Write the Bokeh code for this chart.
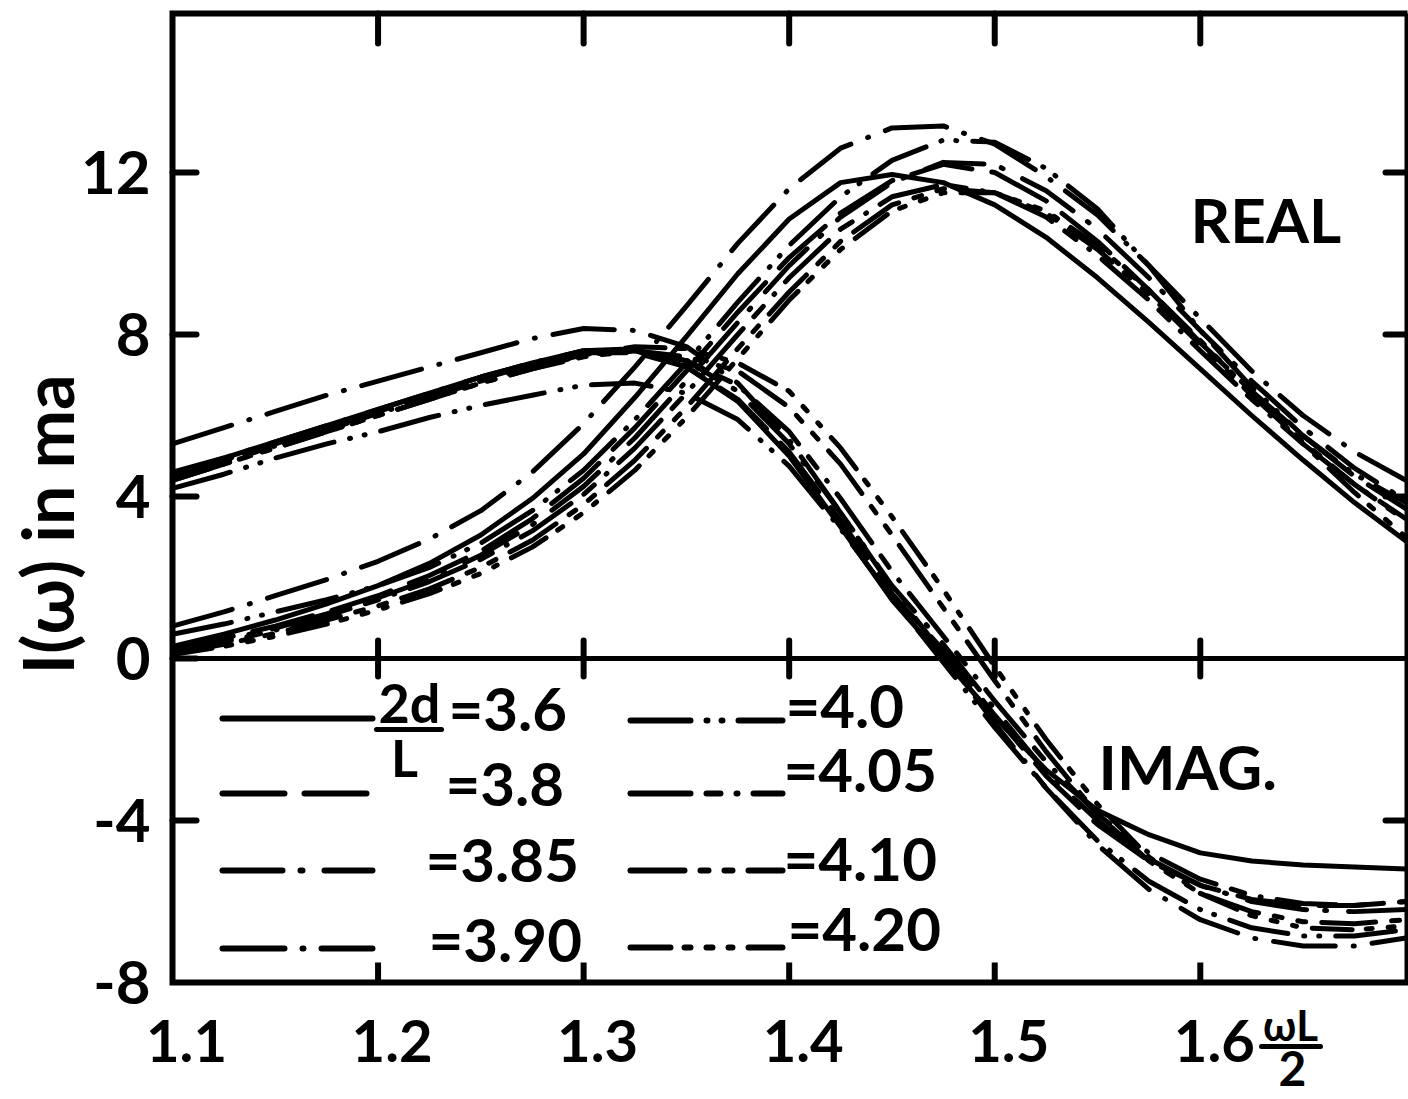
from bokeh.plotting import figure
from bokeh.models import Range1d, Label
from bokeh.embed import file_html
from bokeh.resources import INLINE

# ---- data: I(omega) in mA against omega*L/2, one curve per 2d/L ----
omega = [1.100, 1.125, 1.150, 1.175, 1.200, 1.225, 1.250, 1.275, 1.300, 1.325,
         1.350, 1.375, 1.400, 1.425, 1.450, 1.475, 1.500, 1.525, 1.550, 1.575,
         1.600, 1.625, 1.650, 1.675, 1.700]

params = ["3.6", "3.8", "3.85", "3.90", "4.0", "4.05", "4.10", "4.20"]

real_36 = [0.30, 0.60, 0.95, 1.35, 1.80, 2.35, 3.05, 3.95, 5.05, 6.45, 7.95, 9.50, 10.85,
           11.75, 11.95, 11.75, 11.20, 10.40, 9.40, 8.30, 7.15, 6.00, 4.90, 3.85, 2.90]
real_38 = [0.25, 0.50, 0.80, 1.15, 1.55, 2.05, 2.65, 3.45, 4.45, 5.70, 7.10, 8.55, 9.90,
           11.00, 11.80, 12.20, 12.00, 11.30, 10.30, 9.10, 7.80, 6.60, 5.50, 4.50, 3.70]
real_385 = [0.20, 0.45, 0.75, 1.10, 1.50, 1.95, 2.55, 3.30, 4.25, 5.45, 6.85, 8.30, 9.70,
            10.90, 11.75, 12.25, 12.20, 11.55, 10.60, 9.40, 8.10, 6.85, 5.70, 4.70, 3.90]
real_390 = [0.80, 1.15, 1.55, 1.95, 2.40, 2.95, 3.65, 4.60, 5.80, 7.20, 8.70, 10.25, 11.60,
            12.60, 13.10, 13.15, 12.70, 11.90, 10.95, 9.70, 8.40, 7.10, 6.00, 5.10, 4.40]
real_40 = [0.60, 0.85, 1.15, 1.45, 1.80, 2.25, 2.85, 3.65, 4.65, 5.90, 7.30, 8.80, 10.20,
           11.40, 12.30, 12.80, 12.75, 12.10, 11.10, 9.70, 8.10, 6.70, 5.50, 4.55, 3.85]
real_405 = [0.15, 0.40, 0.70, 1.05, 1.45, 1.90, 2.45, 3.15, 4.05, 5.20, 6.55, 8.00, 9.40,
            10.60, 11.40, 11.70, 11.50, 10.90, 9.95, 8.85, 7.60, 6.40, 5.30, 4.30, 3.45]
real_410 = [0.12, 0.35, 0.62, 0.95, 1.30, 1.72, 2.25, 2.92, 3.80, 4.90, 6.20, 7.65, 9.05,
            10.30, 11.20, 11.60, 11.50, 11.00, 10.10, 9.00, 7.75, 6.50, 5.35, 4.30, 3.40]
real_420 = [0.10, 0.30, 0.55, 0.85, 1.20, 1.60, 2.10, 2.75, 3.60, 4.65, 5.95, 7.40, 8.85,
            10.10, 11.05, 11.50, 11.50, 11.05, 10.20, 9.10, 7.85, 6.55, 5.30, 4.10, 3.00]

imag_36 = [4.60, 4.95, 5.35, 5.75, 6.15, 6.55, 6.95, 7.30, 7.60, 7.60, 7.20, 6.35, 5.00,
           3.25, 1.45, 0.00, -1.45, -2.75, -3.75, -4.35, -4.80, -5.00, -5.10, -5.15, -5.20]
imag_38 = [4.50, 4.90, 5.30, 5.70, 6.10, 6.50, 6.90, 7.25, 7.55, 7.55, 7.20, 6.40, 5.10,
           3.40, 1.60, 0.20, -1.40, -2.90, -4.10, -5.00, -5.60, -5.95, -6.10, -6.10, -6.00]
imag_385 = [4.55, 4.95, 5.35, 5.75, 6.15, 6.55, 6.95, 7.30, 7.60, 7.65, 7.35, 6.60, 5.30,
            3.60, 1.80, 0.35, -1.25, -2.80, -4.00, -4.95, -5.60, -6.00, -6.20, -6.25, -6.20]
imag_390 = [5.30, 5.70, 6.10, 6.50, 6.85, 7.20, 7.55, 7.90, 8.15, 8.10, 7.70, 6.80, 5.40,
            3.60, 1.75, 0.10, -1.60, -3.20, -4.60, -5.70, -6.45, -6.90, -7.10, -7.10, -6.90]
imag_40 = [4.20, 4.55, 4.95, 5.30, 5.60, 5.95, 6.25, 6.50, 6.75, 6.80, 6.55, 5.90, 4.75,
           3.20, 1.50, -0.10, -1.70, -3.20, -4.50, -5.50, -6.20, -6.65, -6.85, -6.85, -6.70]
imag_405 = [4.45, 4.85, 5.25, 5.65, 6.05, 6.45, 6.85, 7.20, 7.50, 7.60, 7.35, 6.75, 5.60,
            3.95, 2.15, 0.55, -1.05, -2.55, -3.85, -4.80, -5.45, -5.85, -6.05, -6.10, -6.00]
imag_410 = [4.40, 4.80, 5.20, 5.60, 6.00, 6.40, 6.80, 7.15, 7.45, 7.60, 7.45, 7.10, 6.20,
            4.80, 3.05, 1.25, -0.55, -2.30, -3.85, -5.00, -5.80, -6.25, -6.50, -6.55, -6.45]
imag_420 = [4.40, 4.80, 5.20, 5.60, 6.00, 6.40, 6.80, 7.15, 7.50, 7.70, 7.65, 7.30, 6.60,
            5.20, 3.50, 1.70, -0.20, -2.00, -3.60, -4.90, -5.80, -6.35, -6.65, -6.70, -6.60]

real_parts = [real_36, real_38, real_385, real_390, real_40, real_405, real_410, real_420]
imag_parts = [imag_36, imag_38, imag_385, imag_390, imag_40, imag_405, imag_410, imag_420]

x_ticks = [1.1, 1.2, 1.3, 1.4, 1.5, 1.6]
x_tick_labels = ["1.1", "1.2", "1.3", "1.4", "1.5", "1.6"]
y_ticks = [-8, -4, 0, 4, 8, 12]
y_tick_labels = ["-8", "-4", "0", "4", "8", "12"]

# ---- line styles, one per 2d/L (round caps turn 1-px dashes into dots) ----
dashes = ["solid", "62 20", "60 18 2 22", "62 18 1 18", "60 16 1 14 1 16",
          "60 16 14 16 1 16", "54 16 8 16 8 16", "40 14 6 16 6 16 4 16"]

# ---- page geometry: the canvas is one frame, the boxed chart sits inside it ----
W, H = 1408, 1099
BOX_L, BOX_R, BOX_T, BOX_B = 172, 1407, 13, 982   # pixel edges of the boxed chart
X0, Y0 = 1.1, -8.0                                 # data values at the lower-left corner
SX = 2055.6                                        # pixels per unit of omega*L/2
SY = 40.5                                          # pixels per mA


def dx(px):
    return X0 + (px - BOX_L) / SX


def dy(py):
    return Y0 + (BOX_B - py) / SY


X1, Y1 = dx(BOX_R), dy(BOX_T)
INK = "#000000"
FONT = "Lato"

p = figure(width=W, height=H, x_range=Range1d(dx(0), dx(W)), y_range=Range1d(dy(H), dy(0)),
           output_backend="svg", toolbar_location=None,
           x_axis_location=None, y_axis_location=None, min_border=0)
p.grid.visible = False
p.outline_line_color = None
p.background_fill_color = "white"
p.border_fill_color = "white"


def label(x, y, text, size, align="left", angle=0, x_offset=0):
    p.add_layout(Label(x=x, y=y, x_offset=x_offset, text=text, text_align=align,
                       text_baseline="middle", text_font=FONT, text_font_style="bold",
                       text_font_size=size, text_color=INK, angle=angle,
                       angle_units="deg"))


# box around the chart
p.line([X1, X0, X0, X1, X1], [Y1, Y1, Y0, Y0, Y1], line_color=INK, line_width=6,
       line_join="miter")

# inward ticks on all four sides
inner_x = x_ticks[1:]
p.segment(x0=inner_x, y0=[Y0] * len(inner_x), x1=inner_x, y1=[Y0 + 20 / SY] * len(inner_x),
          line_width=6, line_color=INK)
p.segment(x0=inner_x, y0=[Y1] * len(inner_x), x1=inner_x, y1=[Y1 - 30 / SY] * len(inner_x),
          line_width=6, line_color=INK, line_cap="round")
left_y = [t for t in y_ticks if t != -8]
p.segment(x0=[X0] * len(left_y), y0=left_y, x1=[X0 + 24 / SX] * len(left_y), y1=left_y,
          line_width=6, line_color=INK, line_cap="round")
right_y = [t for t in y_ticks if t not in (0, -8)]
p.segment(x0=[X1] * len(right_y), y0=right_y, x1=[X1 - 22 / SX] * len(right_y), y1=right_y,
          line_width=6, line_color=INK, line_cap="round")

# zero line with crossing ticks
p.line([X0, X1], [0, 0], line_color=INK, line_width=5)
p.segment(x0=inner_x, y0=[-18 / SY] * len(inner_x), x1=inner_x, y1=[18 / SY] * len(inner_x),
          line_width=6, line_color=INK, line_cap="round")

# tick labels
for t, s in zip(y_ticks, y_tick_labels):
    label(dx(150), t, s, "60px", align="right")
for t, s in zip(x_ticks, x_tick_labels):
    label(t, dy(1040), s, "58px", align="center", x_offset=14)

# curves
for re_vals, im_vals, dash in zip(real_parts, imag_parts, dashes):
    p.line(omega, re_vals, line_color=INK, line_width=5, line_dash=dash,
           line_cap="round", line_join="round")
    p.line(omega, im_vals, line_color=INK, line_width=5, line_dash=dash,
           line_cap="round", line_join="round")

# key: two columns of line samples with their labels
key_span = [(222, 372), (630, 782)]
key_rows = [[718, 793, 870, 948], [720, 793, 870, 947]]
key_text_x = [[448, 445, 425, 428], [785, 783, 783, 787]]
key_text_y = [[707, 782, 858, 938], [704, 768, 857, 927]]
for i, (par, dash) in enumerate(zip(params, dashes)):
    col, row = divmod(i, 4)
    xa, xb = key_span[col]
    yy = dy(key_rows[col][row])
    p.line([dx(xa), dx(xb)], [yy, yy], line_color=INK, line_width=6,
           line_dash=dash, line_cap="round")
    label(dx(key_text_x[col][row]), dy(key_text_y[col][row]), "=" + par, "60px")

# the 2d/L fraction in front of the first entry
label(dx(409), dy(702), "2d", "54px", align="center")
p.line([dx(376), dx(441)], [dy(729), dy(729)], line_width=5, line_color=INK, line_cap="round")
label(dx(404), dy(756), "L", "52px", align="center")

# part annotations
label(dx(1190), dy(218), "REAL", "62px")
label(dx(1098), dy(765), "IMAG.", "62px")

# x axis title: omega L over 2
label(dx(1290), dy(1024), "ωL", "42px", align="center")
p.line([dx(1261), dx(1320)], [dy(1046), dy(1046)], line_width=5, line_color=INK,
       line_cap="round")
label(dx(1292), dy(1068), "2", "48px", align="center")

# y axis title
label(dx(46), dy(524), "I(ω) in ma", "70px", align="center", angle=90)

open("out.html", "w").write(file_html(p, INLINE))
